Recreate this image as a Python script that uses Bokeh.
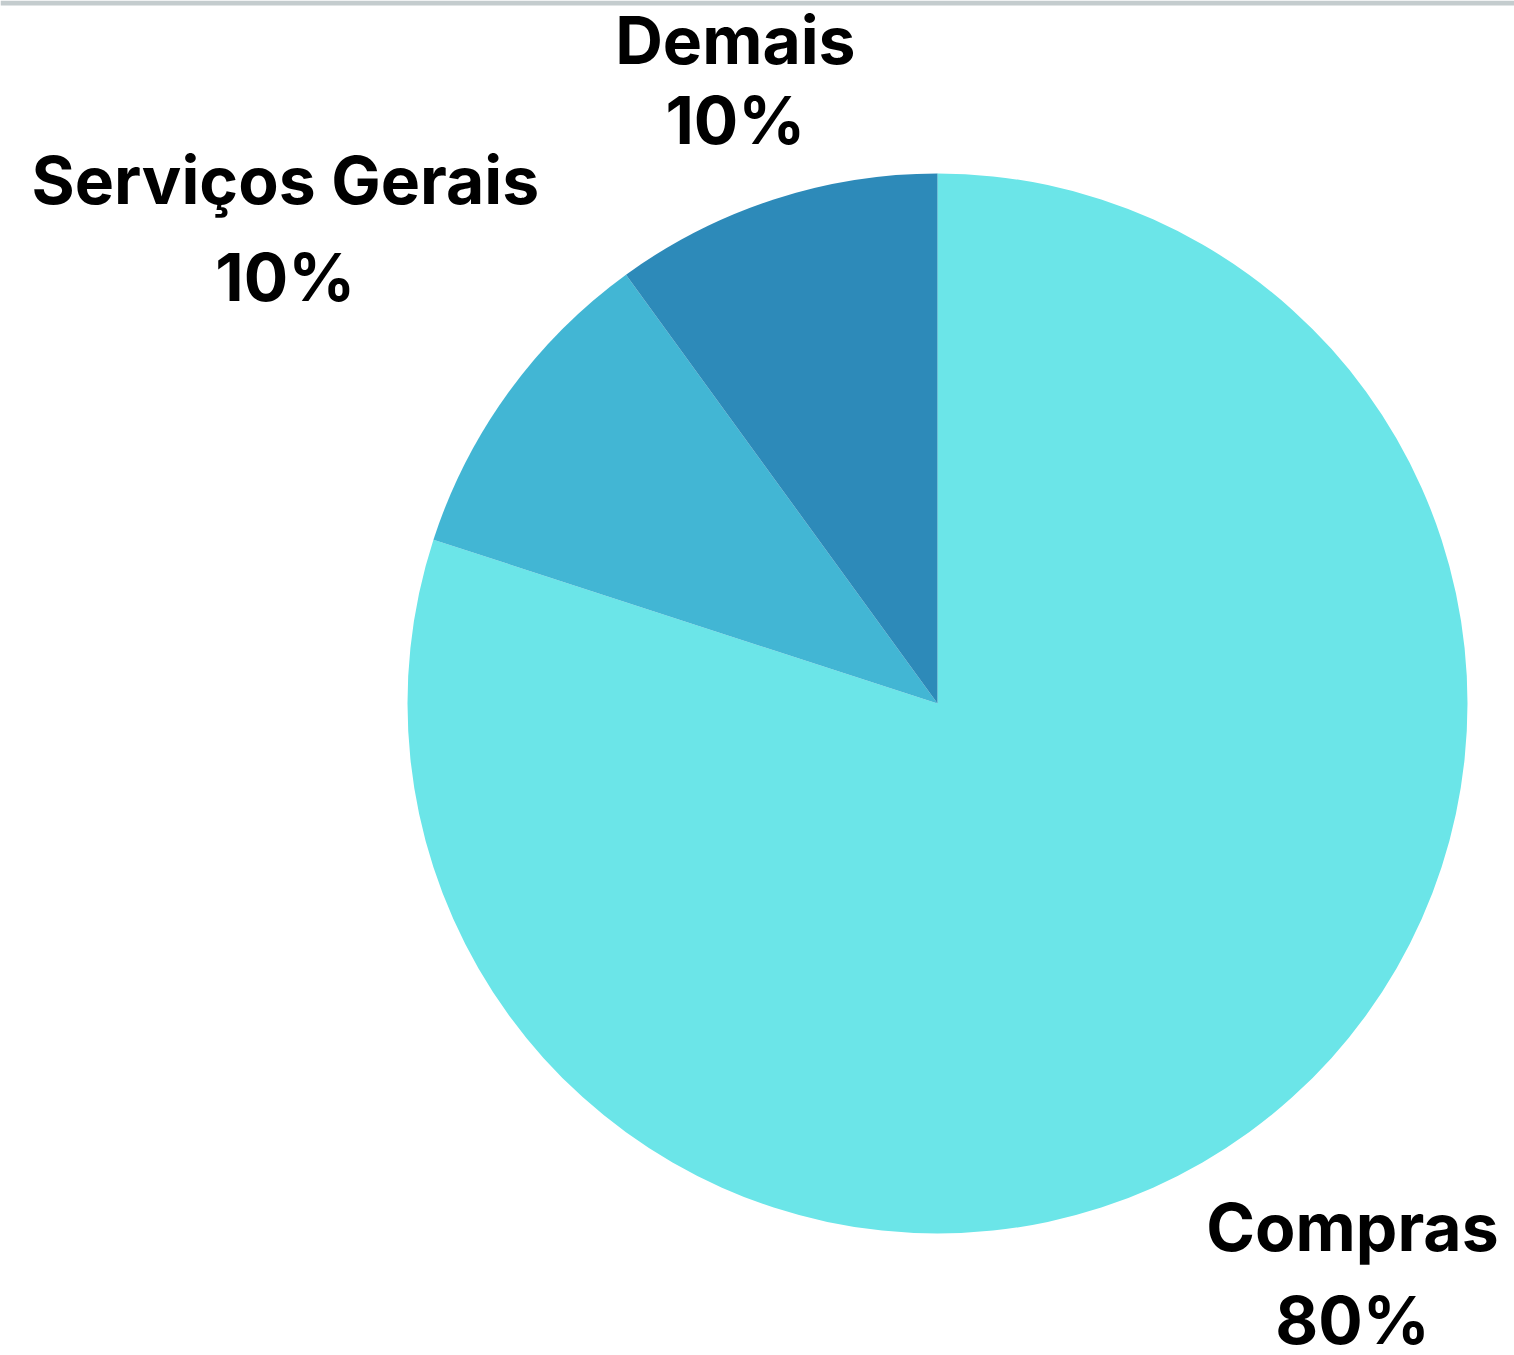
import math
from bokeh.plotting import figure
from bokeh.models import Range1d
from bokeh.core.properties import value
from bokeh.embed import file_html
from bokeh.resources import INLINE

# Data
categories = ["Compras", "Serviços Gerais", "Demais"]
shares = [80, 10, 10]
pct_labels = ["80%", "10%", "10%"]
colors = ["#6BE5E8", "#42B6D4", "#2D8AB9"]

# label placement (distance factor from centre, line gap in px)
label_dist = [1.332, 1.521, 1.234]
label_gap = [93, 97, 80]

W, H = 1514, 1355
CX, CY = 937, 703  # pie centre in figure pixels (from top-left)
R = 530
CAP = 49
TEXT_SHIFT = 26
FONT_SIZE = "66px"

p = figure(width=W, height=H, output_backend="svg", toolbar_location=None,
           x_range=Range1d(-CX, W - CX), y_range=Range1d(-(H - CY), CY),
           min_border=0, tools="")
p.axis.visible = False
p.grid.visible = False
p.outline_line_color = None
p.background_fill_color = "white"
p.border_fill_color = "white"

# top band
p.quad(left=-CX, right=W - CX, top=CY, bottom=CY - 5, fill_color="#C4CCCE", line_color=None)

total = sum(shares)
cum = 0
for cat, s, col, lab, f, gap in zip(categories, shares, colors, pct_labels, label_dist, label_gap):
    start = math.pi / 2 - 2 * math.pi * cum / total
    end = math.pi / 2 - 2 * math.pi * (cum + s) / total
    p.wedge(x=0, y=0, radius=R, start_angle=start, end_angle=end, direction="clock",
            fill_color=col, line_color=None)
    mid = (start + end) / 2
    lx = f * R * math.cos(mid)
    ly = f * R * math.sin(mid) + TEXT_SHIFT
    a = gap / 2 - CAP / 2
    p.text(x=[lx], y=[ly + a], text=[cat], text_font=value("Inter"), text_font_style="bold",
           text_font_size=FONT_SIZE, text_align="center", text_baseline="alphabetic",
           text_color="black")
    p.text(x=[lx], y=[ly + a - gap], text=[lab], text_font=value("Inter"), text_font_style="bold",
           text_font_size=FONT_SIZE, text_align="center", text_baseline="alphabetic",
           text_color="black")
    cum += s

open("out.html", "w").write(file_html(p, INLINE))
